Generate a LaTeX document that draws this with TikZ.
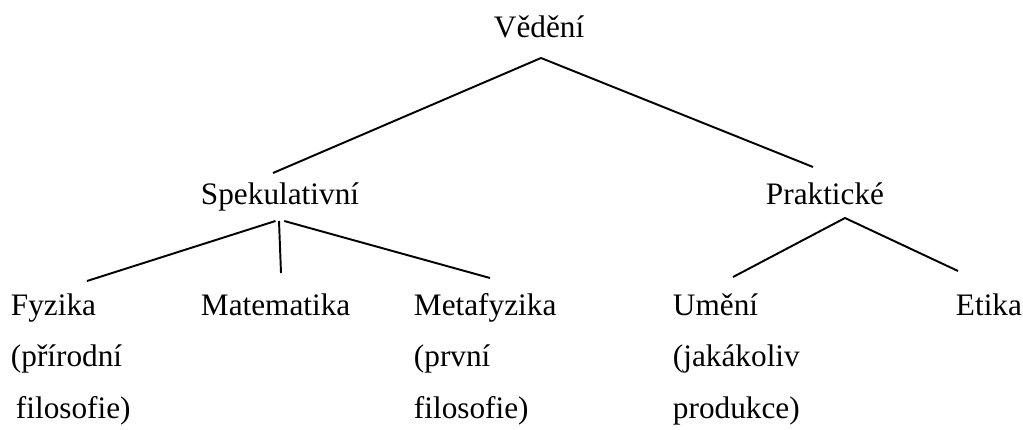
\documentclass[tikz,border=0pt]{standalone}
\usepackage{fontspec}
\setmainfont{Liberation Serif}
\usetikzlibrary{positioning}
\begin{document}
\begin{tikzpicture}[x=0.02cm, y=-0.02cm, line width=1.1pt,
  lbl/.style={anchor=base west, inner sep=0pt, align=left,
    font=\fontsize{17.8}{29.3}\selectfont}]
\useasboundingbox (0,0) rectangle (1023,429);
% top and middle level
\node[lbl] (vedeni) at (493,38) {Vědění};
\node[lbl] (spek) at (200,204) {Spekulativní};
\node[lbl] (prak) at (765,204) {Praktické};
% bottom level (multi-line nodes sit on their last baseline)
\node[lbl] (fyz) at (10,418) {Fyzika\\(přírodní\\\hspace{0.1cm}filosofie)};
\node[lbl] (mat) at (200,315) {Matematika};
\node[lbl] (meta) at (413,418) {Metafyzika\\(první\\filosofie)};
\node[lbl] (umeni) at (672,418) {Umění\\(jakákoliv\\produkce)};
\node[lbl] (etika) at (955,315) {Etika};
% branch points
\coordinate (vedeni-b) at (541,58);
\coordinate (spek-t) at (273,173);
\coordinate (prak-t) at (813,167);
\coordinate (spek-b) at (279,221);
\coordinate (prak-b) at (845,218);
\coordinate (fyz-t) at (87,281);
\coordinate (mat-t) at (281,273);
\coordinate (meta-t) at (490,278);
\coordinate (umeni-t) at (733,277);
\coordinate (etika-t) at (958,271);
\draw (spek-t)--(vedeni-b)--(prak-t);
\draw (fyz-t)--([xshift=-2]spek-b);
\draw (mat-t)--(spek-b);
\draw (meta-t)--([xshift=3]spek-b);
\draw (umeni-t)--(prak-b)--(etika-t);
\end{tikzpicture}
\end{document}
